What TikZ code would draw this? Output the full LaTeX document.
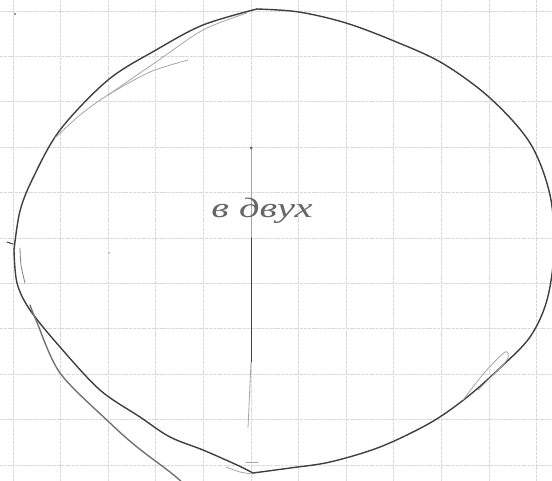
\documentclass[tikz,border=0pt]{standalone}
\usepackage{fontspec}
\newfontfamily\handfont{Liberation Serif}

\begin{document}
\begin{tikzpicture}[
  x=1pt, y=-1pt,
  pencil/.style={draw=black!75, line width=1.4pt, line cap=round, line join=round},
  faint/.style={draw=black!35, line width=0.8pt, line cap=round, line join=round},
  gridline/.style={draw=black!15, line width=0.7pt, dash pattern=on 3pt off 0.8pt},
  word/.style={font=\handfont\itshape\fontsize{28}{32}\selectfont, text=black!60, inner sep=0pt, xscale=1.45}
]
\useasboundingbox (0,0) rectangle (552,481);
\clip (0,0) rectangle (552,481);
\fill[white] (0,0) rectangle (552,481);
% grid
\foreach \i in {0,...,11} \draw[gridline] ({13+47.6*\i},0) -- ({13+47.6*\i},481);
\foreach \j in {0,...,10} \draw[gridline] (0,{11+45.4*\j}) -- (552,{11+45.4*\j});
% outline
\draw[pencil] plot[smooth, tension=0.55] coordinates {(257,9) (299,12) (346,23) (394,41) (442,63) (490,98) (530,143) (550,195) (554,250) (547,300) (530,337) (500,368) (466,398) (430,423) (380,447) (330,462) (290,468) (253,473)};
\draw[pencil] plot[smooth, tension=0.55] coordinates {(253,473) (237,465) (203,450) (170,437) (140,417) (100,390) (60,347) (30,310) (17,283) (14,250)};
\draw[pencil] plot[smooth, tension=0.55] coordinates {(14,250) (20,211) (33,178) (60,130) (108,80) (156,50) (203,25) (257,9)};
% second strokes
\draw[pencil, draw=black!55] plot[smooth] coordinates {(30,305) (36,320) (60,373) (110,423) (137,447) (170,472) (184,484)};
\draw[faint, draw=black!50] plot[smooth] coordinates {(20,248) (21,265) (25,283)};
\draw[faint] plot[smooth] coordinates {(55,138) (80,115) (108,95) (150,72) (188,60)};
\draw[faint] plot[smooth] coordinates {(108,95) (156,62) (203,30) (247,13)};
\draw[faint] plot[smooth] coordinates {(463,400) (485,372) (505,352) (508,358) (500,368) (478,390)};
\draw[faint] plot[smooth] coordinates {(226,467) (240,472) (253,474)};
\draw[faint] (246,462) -- (258,462);
% axis and marks
\draw[faint] (251,148) -- (251,240);
\draw[pencil, line width=1pt] (251,238) -- (251,362);
\draw[faint] (251,362) -- (248,428);
\fill[black!60] (251,148) circle (1.5);
\fill[black!55] (15,14) circle (1.2);
\fill[black!30] (109,253) circle (1);
\draw[pencil, line width=1pt] (7,242) -- (13,244);
\node[word, anchor=base west] (label) at (211,218) {в двух};
\end{tikzpicture}
\end{document}
